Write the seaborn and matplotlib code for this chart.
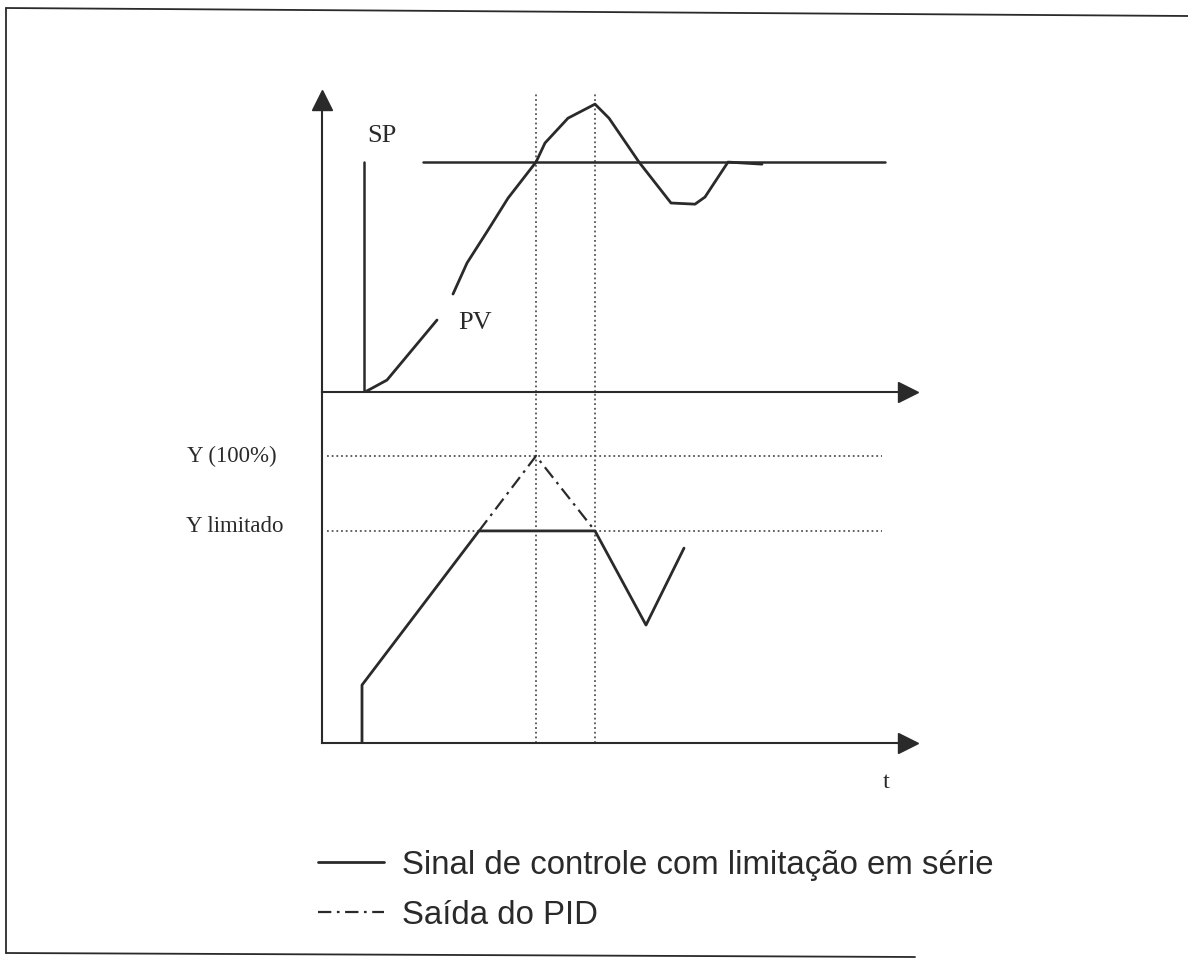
import matplotlib.pyplot as plt
import pandas as pd
import seaborn as sns
from matplotlib.lines import Line2D

# ---------------------------------------------------------------------------
# Dados lidos do diagrama (t em unidades arbitrárias)
# ---------------------------------------------------------------------------
# Painel superior: PV e SP em % do setpoint
t_pv = [4.3, 6.5, 11.5, 13.1, 14.5, 16.6, 18.6, 21.4, 22.3, 24.6, 27.3,
        28.7, 31.7, 34.9, 37.3, 38.3, 40.6, 44.0]
pv = [0, 5.2, 31.3, 42.6, 56.1, 70.4, 84.3, 100, 108.3, 119.1, 125.2,
      119.1, 100, 82.2, 81.7, 84.8, 100, 99.1]
pv_trecho = [0, 0, 0, 1, 1, 1, 1, 1, 1, 1, 1, 1, 1, 1, 1, 1, 1, 1]

t_sp_degrau = [4.2, 4.2]
sp_degrau = [0, 100]
t_sp = [10.1, 56.3]
sp = [100, 100]

# Painel inferior: saída Y em %
y_max = 100.0
y_limitado = 73.9
t_ctrl = [4.0, 4.0, 15.7, 27.3, 32.4, 36.2]
y_ctrl = [0, 20.2, 73.9, 73.9, 41.1, 67.9]
t_pid = [15.7, 21.4, 27.3]
y_pid = [73.9, 100, 73.9]

t_marcas = [21.4, 27.3]
t_ref = [0.5, 56.0]

COR = "#2a2a2a"
COR_PONT = "#555555"
SERIF = ["Liberation Serif", "DejaVu Serif"]

sns.set_theme(style="white")
plt.rcParams["font.family"] = ["Liberation Sans", "DejaVu Sans"]

W, H = 1188, 961
fig = plt.figure(figsize=(W / 100, H / 100), dpi=100)

x0, x1 = 322 / W, 908 / W
ax_top = fig.add_axes([x0, 1 - 392 / H, x1 - x0, (392 - 100) / H])
ax_low = fig.add_axes([x0, 1 - 743 / H, x1 - x0, (743 - 392) / H])

for ax in (ax_top, ax_low):
    ax.set_xlim(0, 58.6)
    ax.set_xticks([])
    ax.set_yticks([])
    ax.patch.set_alpha(0)
    for lado in ("top", "right"):
        ax.spines[lado].set_visible(False)
    for lado in ("left", "bottom"):
        ax.spines[lado].set_color(COR)
        ax.spines[lado].set_linewidth(1.5)
    # seta do eixo do tempo
    ax.plot(1, 0, ">", color=COR, ms=15, transform=ax.transAxes, clip_on=False)

ax_top.set_ylim(0, 127.0)
ax_low.set_ylim(0, 122.3)
ax_top.plot(0, 1, "^", color=COR, ms=15, transform=ax_top.transAxes, clip_on=False)

# linhas pontilhadas verticais
for t in t_marcas:
    ax_top.vlines(t, 0, 130, color=COR_PONT, lw=1.3, ls=(0, (1, 1.6)), clip_on=False)
    ax_low.vlines(t, 0, 122.3, color=COR_PONT, lw=1.3, ls=(0, (1, 1.6)))

# níveis Y (100%) e Y limitado
for nivel in (y_max, y_limitado):
    ax_low.hlines(nivel, t_ref[0], t_ref[1], color=COR_PONT, lw=1.3, ls=(0, (1, 1.6)))

# PV
df_pv = pd.DataFrame({"t": t_pv, "pv": pv, "trecho": pv_trecho})
sns.lineplot(data=df_pv, x="t", y="pv", units="trecho", estimator=None,
             sort=False, color=COR, lw=2.0, ax=ax_top, legend=False)

# SP
sns.lineplot(x=t_sp_degrau, y=sp_degrau, sort=False, estimator=None,
             color=COR, lw=1.8, ax=ax_top)
sns.lineplot(x=t_sp, y=sp, sort=False, estimator=None, color=COR, lw=1.8, ax=ax_top)

# sinal de controle e saída do PID
sns.lineplot(x=t_ctrl, y=y_ctrl, sort=False, estimator=None, color=COR, lw=2.0,
             ax=ax_low, label="Sinal de controle com limitação em série")
sns.lineplot(x=t_pid, y=y_pid, sort=False, estimator=None, color=COR, lw=1.6,
             linestyle=(0, (6, 2.5, 1.2, 2.5)), ax=ax_low, label="Saída do PID")

for ax in (ax_top, ax_low):
    ax.set_xlabel("")
    ax.set_ylabel("")

handles, labels = ax_low.get_legend_handles_labels()
ax_low.get_legend().remove()

# textos
ax_top.text(4.5, 111.5, "SP", family=SERIF, fontsize=19, va="center", ha="left", color=COR)
ax_top.text(13.6, 30.0, "PV", family=SERIF, fontsize=19, va="center", ha="left", color=COR)
ax_low.text(-4.5, y_max, "Y (100%)", family=SERIF, fontsize=16.5, va="center", ha="right", color=COR)
ax_low.text(-3.8, y_limitado + 1.5, "Y limitado", family=SERIF, fontsize=16.5, va="center", ha="right", color=COR)
ax_low.text(56.4, -13.9, "t", family=SERIF, fontsize=17.5, va="center", ha="center", color=COR)

fig.legend(handles, labels, loc="upper left", bbox_to_anchor=(318 / W, 1 - 850 / H),
           frameon=False, borderpad=0, borderaxespad=0, handlelength=2.0,
           handletextpad=0.55, labelspacing=0.56,
           prop={"family": ["Liberation Sans", "DejaVu Sans"], "size": 23.8},
           labelcolor=COR)

# moldura da figura digitalizada
moldura = [
    ([6, 6], [8, 953]),
    ([6, W], [8, 16]),
    ([6, 915], [953, 957]),
]
for xs, ys in moldura:
    fig.add_artist(Line2D([x / W for x in xs], [1 - y / H for y in ys],
                          transform=fig.transFigure, color=COR, lw=1.3))

fig.savefig("out.png", dpi=100, facecolor="white")
